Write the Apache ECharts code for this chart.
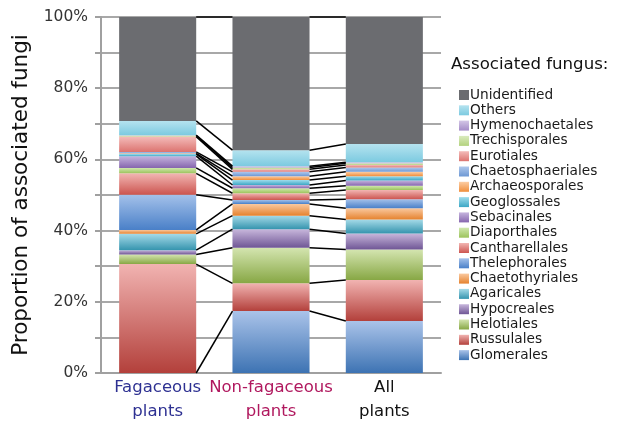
<!DOCTYPE html>
<html>
<head>
<meta charset="utf-8">
<script src="https://cdn.jsdelivr.net/npm/echarts@6/dist/echarts.min.js"></script>
<style>
  html, body { margin: 0; padding: 0; background: #fff; }
  #chart { width: 619px; height: 421px; }
</style>
</head>
<body>
<div id="chart"></div>
<script>
// Plant groups along the x axis
const categories = ['Fagaceous\nplants', 'Non-fagaceous\nplants', 'All\nplants'];
const categoryColors = ['#2E3192', '#B0185E', '#111111'];

// Fungal orders, stacked from the bottom of each bar upwards
const fungi = [
  'Glomerales', 'Russulales', 'Helotiales', 'Hypocreales', 'Agaricales',
  'Chaetothyriales', 'Thelephorales', 'Cantharellales', 'Diaporthales',
  'Sebacinales', 'Geoglossales', 'Archaeosporales', 'Chaetosphaeriales',
  'Eurotiales', 'Trechisporales', 'Hymenochaetales', 'Others', 'Unidentified'
];

// Proportion (%) of associated fungi per order, same order as `fungi`
const fagaceous = [
  0.0, 30.6, 2.7, 1.2, 4.6, 1.1, 9.9, 6.0, 1.5,
  3.3, 0.6, 0.2, 0.4, 4.3, 0.3, 0.1, 4.0, 29.2
];
const nonFagaceous = [
  17.4, 7.8, 10.0, 5.2, 3.8, 3.3, 1.1, 1.9, 1.4,
  0.9, 1.4, 1.1, 1.2, 0.7, 0.5, 0.4, 4.5, 37.4
];
const allPlants = [
  14.6, 11.5, 8.6, 4.5, 3.9, 3.2, 2.5, 2.6, 1.2,
  1.5, 1.2, 1.2, 1.2, 0.7, 0.5, 0.3, 5.1, 35.7
];

// Y axis ticks (labelled every 20 %)
const yTicks = [0, 20, 40, 60, 80, 100];

// Top/bottom gradient colours for each order
const palette = [
  ['#AAC3E9', '#3D73B3'], ['#F1B3B1', '#B3403B'], ['#D4E5B0', '#87A744'],
  ['#C8B7DC', '#6F5695'], ['#A5DAE8', '#3594AE'], ['#FAC9A0', '#E5822E'],
  ['#A4C1EA', '#4A80C8'], ['#F2B6B3', '#CC5550'], ['#D0E8AE', '#9CC35C'],
  ['#C6B5DE', '#8666AE'], ['#9FDCEC', '#3CA7C5'], ['#FCCDA3', '#F08E3C'],
  ['#AFC8EC', '#6D98D4'], ['#F4BCBA', '#DC7470'], ['#DAEBBE', '#B3D27E'],
  ['#D3C6E6', '#A58CC8'], ['#B5E3EF', '#7CCAE0'], ['#6B6C70', '#6B6C70']
];

const FONT = 'DejaVu Sans, Liberation Sans, sans-serif';
const groups = [fagaceous, nonFagaceous, allPlants];
const barRatio = 0.68;

function grad(pair) {
  return new echarts.graphic.LinearGradient(0, 0, 0, 1, [
    { offset: 0, color: pair[0] },
    { offset: 1, color: pair[1] }
  ]);
}

// Cumulative top of each order within each group
const cumulative = groups.map(function (g) {
  let s = 0;
  return g.map(function (v) { s += v; return s; });
});

const barSeries = fungi.map(function (name, i) {
  return {
    name: name,
    type: 'bar',
    stack: 'total',
    barCategoryGap: ((1 - barRatio) * 100) + '%',
    data: groups.map(function (g) { return g[i]; }),
    itemStyle: { color: grad(palette[i]) },
    emphasis: { disabled: true }
  };
});

// Connector lines joining matching stack boundaries of neighbouring bars
const connectorData = [];
fungi.forEach(function (name, i) {
  for (let c = 0; c < groups.length - 1; c++) {
    connectorData.push([c, cumulative[c][i], cumulative[c + 1][i]]);
  }
});

const connectorSeries = {
  type: 'custom',
  name: 'connectors',
  z: 5,
  silent: true,
  data: connectorData,
  encode: { x: 0, y: 1 },
  renderItem: function (params, api) {
    const band = api.size([1, 0])[0];
    const half = band * barRatio / 2;
    const c = api.value(0);
    const p0 = api.coord([c, api.value(1)]);
    const p1 = api.coord([c + 1, api.value(2)]);
    return {
      type: 'line',
      shape: { x1: p0[0] + half, y1: p0[1], x2: p1[0] - half, y2: p1[1] },
      style: { stroke: '#000', lineWidth: 1.5 }
    };
  }
};

const chart = echarts.init(document.getElementById('chart'), null, { renderer: 'canvas' });

chart.setOption({
  animation: false,
  backgroundColor: '#fff',
  textStyle: { fontFamily: FONT },
  grid: { left: 101, top: 17, width: 340, height: 356, containLabel: false, outerBoundsMode: 'none' },
  xAxis: {
    type: 'category',
    data: categories,
    axisLine: { lineStyle: { color: '#A0A0A0', width: 2 } },
    axisTick: { show: false },
    axisLabel: {
      interval: 0,
      fontSize: 16.5,
      lineHeight: 24,
      margin: 3,
      formatter: function (value, idx) {
        return value.split('\n').map(function (t) {
          return '{c' + idx + '|' + t + '}';
        }).join('\n');
      },
      rich: {
        c0: { color: categoryColors[0], fontSize: 16.5, lineHeight: 24, fontFamily: FONT },
        c1: { color: categoryColors[1], fontSize: 16.5, lineHeight: 24, fontFamily: FONT },
        c2: { color: categoryColors[2], fontSize: 16.5, lineHeight: 24, fontFamily: FONT }
      }
    }
  },
  yAxis: {
    type: 'value',
    min: 0,
    max: 100,
    interval: 10,
    name: 'Proportion of associated fungi',
    nameLocation: 'middle',
    nameGap: 61,
    nameTextStyle: { fontSize: 21.5, color: '#111', fontFamily: FONT },
    axisLine: { show: true, lineStyle: { color: '#A0A0A0', width: 2 } },
    axisTick: { show: true, length: 6, lineStyle: { color: '#A0A0A0', width: 2 } },
    splitLine: { lineStyle: { color: '#A8A8A8', width: 2 } },
    axisLabel: {
      fontSize: 15.5,
      color: '#333',
      margin: 13,
      fontFamily: FONT,
      formatter: function (v) {
        return yTicks.indexOf(v) >= 0 ? v + '%' : '';
      }
    }
  },
  legend: {
    orient: 'vertical',
    left: 459,
    top: 88,
    height: 320,
    padding: 0,
    itemWidth: 10,
    itemHeight: 10,
    itemGap: 1.3,
    icon: 'rect',
    selectedMode: false,
    data: fungi.slice().reverse(),
    textStyle: { fontSize: 13.7, color: '#1a1a1a', padding: [0, 0, 0, -4], fontFamily: FONT }
  },
  graphic: [{
    type: 'text',
    left: 451,
    top: 56,
    style: { text: 'Associated fungus:', fontSize: 16.6, fill: '#111', fontFamily: FONT }
  }],
  series: barSeries.concat([connectorSeries])
});
</script>
</body>
</html>
